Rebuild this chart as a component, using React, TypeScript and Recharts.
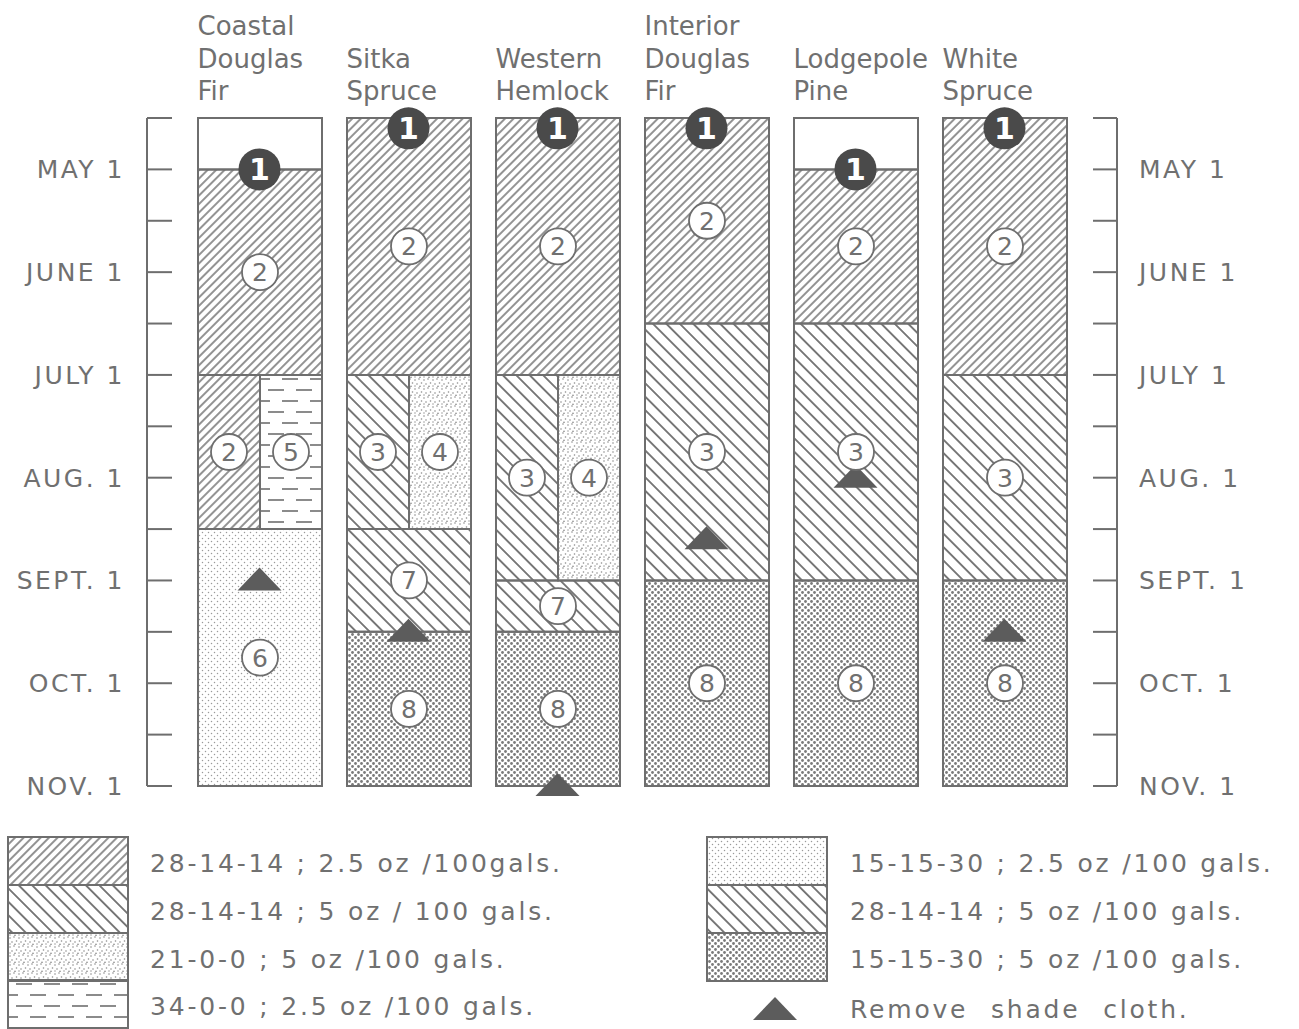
import React from "react";
import { ComposedChart, Bar, Cell, XAxis, YAxis, Scatter, LabelList } from "recharts";

type Mix = "A" | "B" | "C" | "D" | "E" | "F" | "blank" | "gap";
type Seg = { from: number; to: number; mix: Mix; label?: string; side?: "L" | "R" };

// y values are months after April 15 (0.5 = May 1 ... 6.5 = Nov 1)
const SPECIES = [
  "Coastal Douglas Fir",
  "Sitka Spruce",
  "Western Hemlock",
  "Interior Douglas Fir",
  "Lodgepole Pine",
  "White Spruce",
];
const SPECIES_LINES = [
  ["Coastal", "Douglas", "Fir"],
  ["Sitka", "Spruce"],
  ["Western", "Hemlock"],
  ["Interior", "Douglas", "Fir"],
  ["Lodgepole", "Pine"],
  ["White", "Spruce"],
];

const coastalDouglasFir: Seg[] = [
  { from: 0, to: 0.5, mix: "blank" },
  { from: 0.5, to: 2.5, mix: "A", label: "2" },
  { from: 2.5, to: 4, mix: "A", label: "2", side: "L" },
  { from: 2.5, to: 4, mix: "D", label: "5", side: "R" },
  { from: 4, to: 6.5, mix: "E", label: "6" },
];
const sitkaSpruce: Seg[] = [
  { from: 0, to: 2.5, mix: "A", label: "2" },
  { from: 2.5, to: 4, mix: "B", label: "3", side: "L" },
  { from: 2.5, to: 4, mix: "C", label: "4", side: "R" },
  { from: 4, to: 5, mix: "B", label: "7" },
  { from: 5, to: 6.5, mix: "F", label: "8" },
];
const westernHemlock: Seg[] = [
  { from: 0, to: 2.5, mix: "A", label: "2" },
  { from: 2.5, to: 4.5, mix: "B", label: "3", side: "L" },
  { from: 2.5, to: 4.5, mix: "C", label: "4", side: "R" },
  { from: 4.5, to: 5, mix: "B", label: "7" },
  { from: 5, to: 6.5, mix: "F", label: "8" },
];
const interiorDouglasFir: Seg[] = [
  { from: 0, to: 2, mix: "A", label: "2" },
  { from: 2, to: 4.5, mix: "B", label: "3" },
  { from: 4.5, to: 6.5, mix: "F", label: "8" },
];
const lodgepolePine: Seg[] = [
  { from: 0, to: 0.5, mix: "blank" },
  { from: 0.5, to: 2, mix: "A", label: "2" },
  { from: 2, to: 4.5, mix: "B", label: "3" },
  { from: 4.5, to: 6.5, mix: "F", label: "8" },
];
const whiteSpruce: Seg[] = [
  { from: 0, to: 2.5, mix: "A", label: "2" },
  { from: 2.5, to: 4.5, mix: "B", label: "3" },
  { from: 4.5, to: 6.5, mix: "F", label: "8" },
];
const SCHEDULES = [coastalDouglasFir, sitkaSpruce, westernHemlock, interiorDouglasFir, lodgepolePine, whiteSpruce];

// first application (black "1") and shade cloth removal (triangle)
const FIRST_APPLICATION = [0.5, 0.1, 0.1, 0.1, 0.5, 0.1];
const REMOVE_SHADE = [4.5, 5, 6.5, 4.1, 3.5, 5];

const MONTH_TICKS = [0, 0.5, 1, 1.5, 2, 2.5, 3, 3.5, 4, 4.5, 5, 5.5, 6, 6.5];
const MONTH_AT = [0.5, 1.5, 2.5, 3.5, 4.5, 5.5, 6.5];
const MONTH_NAMES = ["MAY 1", "JUNE 1", "JULY 1", "AUG. 1", "SEPT. 1", "OCT. 1", "NOV. 1"];

const LEGEND_LEFT: { mix: Mix; text: string }[] = [
  { mix: "A", text: "28-14-14 ; 2.5 oz /100gals." },
  { mix: "B", text: "28-14-14 ; 5 oz / 100 gals." },
  { mix: "C", text: "21-0-0 ; 5 oz /100 gals." },
  { mix: "D", text: "34-0-0 ; 2.5 oz /100 gals." },
];
const LEGEND_RIGHT: { mix: Mix; text: string }[] = [
  { mix: "E", text: "15-15-30 ; 2.5 oz /100 gals." },
  { mix: "B", text: "28-14-14 ; 5 oz /100 gals." },
  { mix: "F", text: "15-15-30 ; 5 oz /100 gals." },
];
const SHADE_TEXT = "Remove shade cloth.";

const W = 1299;
const H = 1029;
const CHART_H = 800;
const BAR_W = 124;
const LINE = "#6e6e6e";
const INK = "#707070";
const FONT = '"DejaVu Sans", "Noto Sans", sans-serif';
const SLOTS = { F: 4, L: 2, R: 2 } as const;

function buildRow(i: number) {
  const row: Record<string, any> = {
    name: SPECIES[i],
    first: FIRST_APPLICATION[i],
    shade: REMOVE_SHADE[i],
  };
  (["F", "L", "R"] as const).forEach((side) => {
    const list = SCHEDULES[i].filter((s) => (s.side ?? "F") === side);
    const slots: { h: number; mix: Mix; label?: string }[] = [];
    let cur = 0;
    list.forEach((s) => {
      if (s.from > cur) slots.push({ h: s.from - cur, mix: "gap" });
      slots.push({ h: s.to - s.from, mix: s.mix, label: s.label });
      cur = s.to;
    });
    for (let k = 0; k < SLOTS[side]; k++) {
      const s = slots[k];
      row[`${side}${k}`] = s ? s.h : 0;
      row[`${side}${k}m`] = s ? s.mix : "gap";
      row[`${side}${k}l`] = s ? s.label : undefined;
    }
  });
  return row;
}

const rows = SPECIES.map((_, i) => buildRow(i));

function patternDefs(p: string) {
  return (
    <defs>
      <pattern id={`${p}A`} width={6} height={6} patternUnits="userSpaceOnUse" patternTransform="rotate(45)">
        <line x1={3} y1={0} x2={3} y2={6} stroke={LINE} strokeWidth={1.5} />
      </pattern>
      <pattern id={`${p}B`} width={9.5} height={9.5} patternUnits="userSpaceOnUse" patternTransform="rotate(-45)">
        <line x1={4.75} y1={0} x2={4.75} y2={9.5} stroke={LINE} strokeWidth={1.8} />
      </pattern>
      <pattern id={`${p}C`} width={9} height={9} patternUnits="userSpaceOnUse">
        <circle cx={1} cy={2} r={0.8} fill="#8a8a8a" />
        <circle cx={5} cy={1} r={0.8} fill="#8a8a8a" />
        <circle cx={7.5} cy={5} r={0.8} fill="#8a8a8a" />
        <circle cx={3} cy={6} r={0.8} fill="#8a8a8a" />
        <circle cx={6} cy={8.3} r={0.8} fill="#8a8a8a" />
        <circle cx={1} cy={8} r={0.7} fill="#8a8a8a" />
      </pattern>
      <pattern id={`${p}D`} width={28} height={22} patternUnits="userSpaceOnUse">
        <line x1={2} y1={5} x2={18} y2={5} stroke={LINE} strokeWidth={1.6} />
        <line x1={16} y1={16} x2={28} y2={16} stroke={LINE} strokeWidth={1.6} />
        <line x1={0} y1={16} x2={4} y2={16} stroke={LINE} strokeWidth={1.6} />
      </pattern>
      <pattern id={`${p}E`} width={6} height={6} patternUnits="userSpaceOnUse">
        <circle cx={1.5} cy={1.5} r={0.75} fill="#9a9a9a" />
        <circle cx={4.5} cy={4.5} r={0.75} fill="#9a9a9a" />
      </pattern>
      <pattern id={`${p}F`} width={6} height={6} patternUnits="userSpaceOnUse">
        <circle cx={1.5} cy={1.5} r={1.4} fill="#7a7a7a" />
        <circle cx={4.5} cy={4.5} r={1.4} fill="#7a7a7a" />
      </pattern>
    </defs>
  );
}

function fillFor(mix: Mix, p: string) {
  if (mix === "gap") return "transparent";
  if (mix === "blank") return "#ffffff";
  return `url(#${p}${mix})`;
}

function Badge(props: any) {
  const { value } = props;
  if (!value) return null;
  const vb = props.viewBox ?? props;
  const cx = vb.x + vb.width / 2;
  const cy = vb.y + vb.height / 2;
  return (
    <g>
      <circle cx={cx} cy={cy} r={18} fill="#ffffff" stroke={LINE} strokeWidth={1.8} />
      <text x={cx} y={cy + 9} textAnchor="middle" fontSize={25} fontFamily={FONT} fill={INK}>
        {value}
      </text>
    </g>
  );
}

function FirstMark(props: any) {
  const { cx, cy } = props;
  return (
    <g>
      <circle cx={cx} cy={cy} r={21} fill="#4a4a4a" />
      <text x={cx} y={cy + 11} textAnchor="middle" fontSize={30} fontWeight={700} fontFamily={FONT} fill="#ffffff">
        1
      </text>
    </g>
  );
}

function ShadeMark(props: any) {
  const { cx, cy } = props;
  return <polygon points={`${cx - 22},${cy + 10} ${cx},${cy - 13} ${cx + 22},${cy + 10}`} fill="#5c5c5c" />;
}

function SpeciesTick(props: any) {
  const { x, y, payload } = props;
  const idx = SPECIES.indexOf(payload.value);
  const lines = SPECIES_LINES[idx] ?? [];
  return (
    <g>
      {lines.map((t, j) => (
        <text
          key={j}
          x={x - BAR_W / 2}
          y={y - 18 - (lines.length - 1 - j) * 32.5}
          fontSize={26}
          fontFamily={FONT}
          fill={INK}
        >
          {t}
        </text>
      ))}
    </g>
  );
}

function MonthTick(props: any) {
  const { x, y, payload, side } = props;
  const m = MONTH_AT.indexOf(payload.value);
  const left = side === "L";
  return (
    <g>
      <line x1={x} x2={left ? x + 25 : x - 24} y1={y} y2={y} stroke={LINE} strokeWidth={2} />
      {m >= 0 && (
        <text
          x={left ? x - 22 : x + 22}
          y={y + 9}
          textAnchor={left ? "end" : "start"}
          fontSize={25}
          fontFamily={FONT}
          letterSpacing={2.5}
          fill={INK}
        >
          {MONTH_NAMES[m]}
        </text>
      )}
    </g>
  );
}

function Legend() {
  const rowTop = [837, 885, 933, 980];
  const rowH = 48;
  const text = (t: string, x: number, y: number, ws = 0) => (
    <text x={x} y={y} fontSize={25} fontFamily={FONT} letterSpacing={2.8} wordSpacing={ws} fill={INK}>
      {t}
    </text>
  );
  return (
    <svg width={W} height={H} style={{ position: "absolute", left: 0, top: 0, pointerEvents: "none" }}>
      {patternDefs("lg")}
      {LEGEND_LEFT.map((e, i) => (
        <g key={`l${i}`}>
          <rect x={8} y={rowTop[i]} width={120} height={rowH} fill={fillFor(e.mix, "lg")} stroke={LINE} strokeWidth={2} />
          {text(e.text, 150, rowTop[i] + 35)}
        </g>
      ))}
      {LEGEND_RIGHT.map((e, i) => (
        <g key={`r${i}`}>
          <rect x={707} y={rowTop[i]} width={120} height={rowH} fill={fillFor(e.mix, "lg")} stroke={LINE} strokeWidth={2} />
          {text(e.text, 850, rowTop[i] + 35)}
        </g>
      ))}
      <polygon points="753,1020 775,997 797,1020" fill="#5c5c5c" />
      {text(SHADE_TEXT, 850, 1018, 12)}
    </svg>
  );
}

export default function App() {
  return (
    <div style={{ position: "relative", width: W, height: H, background: "#ffffff" }}>
      <style>{"body{margin:0}"}</style>
      <ComposedChart
        width={W}
        height={CHART_H}
        data={rows}
        margin={{ top: 0, right: 0, bottom: CHART_H - 786, left: 0 }}
        barGap={0}
      >
        {patternDefs("c")}
        <XAxis
          xAxisId="full"
          dataKey="name"
          orientation="top"
          height={118}
          padding={{ left: 38, right: 38 }}
          axisLine={false}
          tickLine={false}
          tickSize={0}
          tickMargin={0}
          interval={0}
          allowDuplicatedCategory={false}
          tick={(p: any) => <SpeciesTick {...p} />}
        />
        <XAxis
          xAxisId="half"
          dataKey="name"
          orientation="top"
          hide
          padding={{ left: 38, right: 38 }}
          allowDuplicatedCategory={false}
        />
        <YAxis
          yAxisId="L"
          orientation="left"
          width={147}
          type="number"
          domain={[0, 6.5]}
          reversed
          ticks={MONTH_TICKS}
          interval={0}
          tickLine={false}
          tickSize={0}
          tickMargin={0}
          axisLine={{ stroke: LINE, strokeWidth: 2 }}
          tick={(p: any) => <MonthTick {...p} side="L" />}
        />
        <YAxis
          yAxisId="R"
          orientation="right"
          width={W - 1117}
          type="number"
          domain={[0, 6.5]}
          reversed
          ticks={MONTH_TICKS}
          interval={0}
          tickLine={false}
          tickSize={0}
          tickMargin={0}
          axisLine={{ stroke: LINE, strokeWidth: 2 }}
          tick={(p: any) => <MonthTick {...p} side="R" />}
        />
        {[0, 1, 2, 3].map((k) => (
          <Bar
            key={`F${k}`}
            dataKey={`F${k}`}
            stackId="F"
            xAxisId="full"
            yAxisId="L"
            barSize={BAR_W}
            isAnimationActive={false}
          >
            {rows.map((r, i) => (
              <Cell
                key={i}
                fill={fillFor(r[`F${k}m`], "c")}
                stroke={r[`F${k}m`] === "gap" ? "none" : LINE}
                strokeWidth={2}
              />
            ))}
            <LabelList dataKey={`F${k}l`} content={Badge} />
          </Bar>
        ))}
        {(["L", "R"] as const).flatMap((side) =>
          [0, 1].map((k) => (
            <Bar
              key={`${side}${k}`}
              dataKey={`${side}${k}`}
              stackId={side}
              xAxisId="half"
              yAxisId="L"
              barSize={BAR_W / 2}
              isAnimationActive={false}
            >
              {rows.map((r, i) => (
                <Cell
                  key={i}
                  fill={fillFor(r[`${side}${k}m`], "c")}
                  stroke={r[`${side}${k}m`] === "gap" ? "none" : LINE}
                  strokeWidth={2}
                />
              ))}
              <LabelList dataKey={`${side}${k}l`} content={Badge} />
            </Bar>
          ))
        )}
        <Scatter dataKey="first" xAxisId="full" yAxisId="L" shape={FirstMark} isAnimationActive={false} />
        <Scatter dataKey="shade" xAxisId="full" yAxisId="R" shape={ShadeMark} isAnimationActive={false} />
      </ComposedChart>
      <Legend />
    </div>
  );
}
